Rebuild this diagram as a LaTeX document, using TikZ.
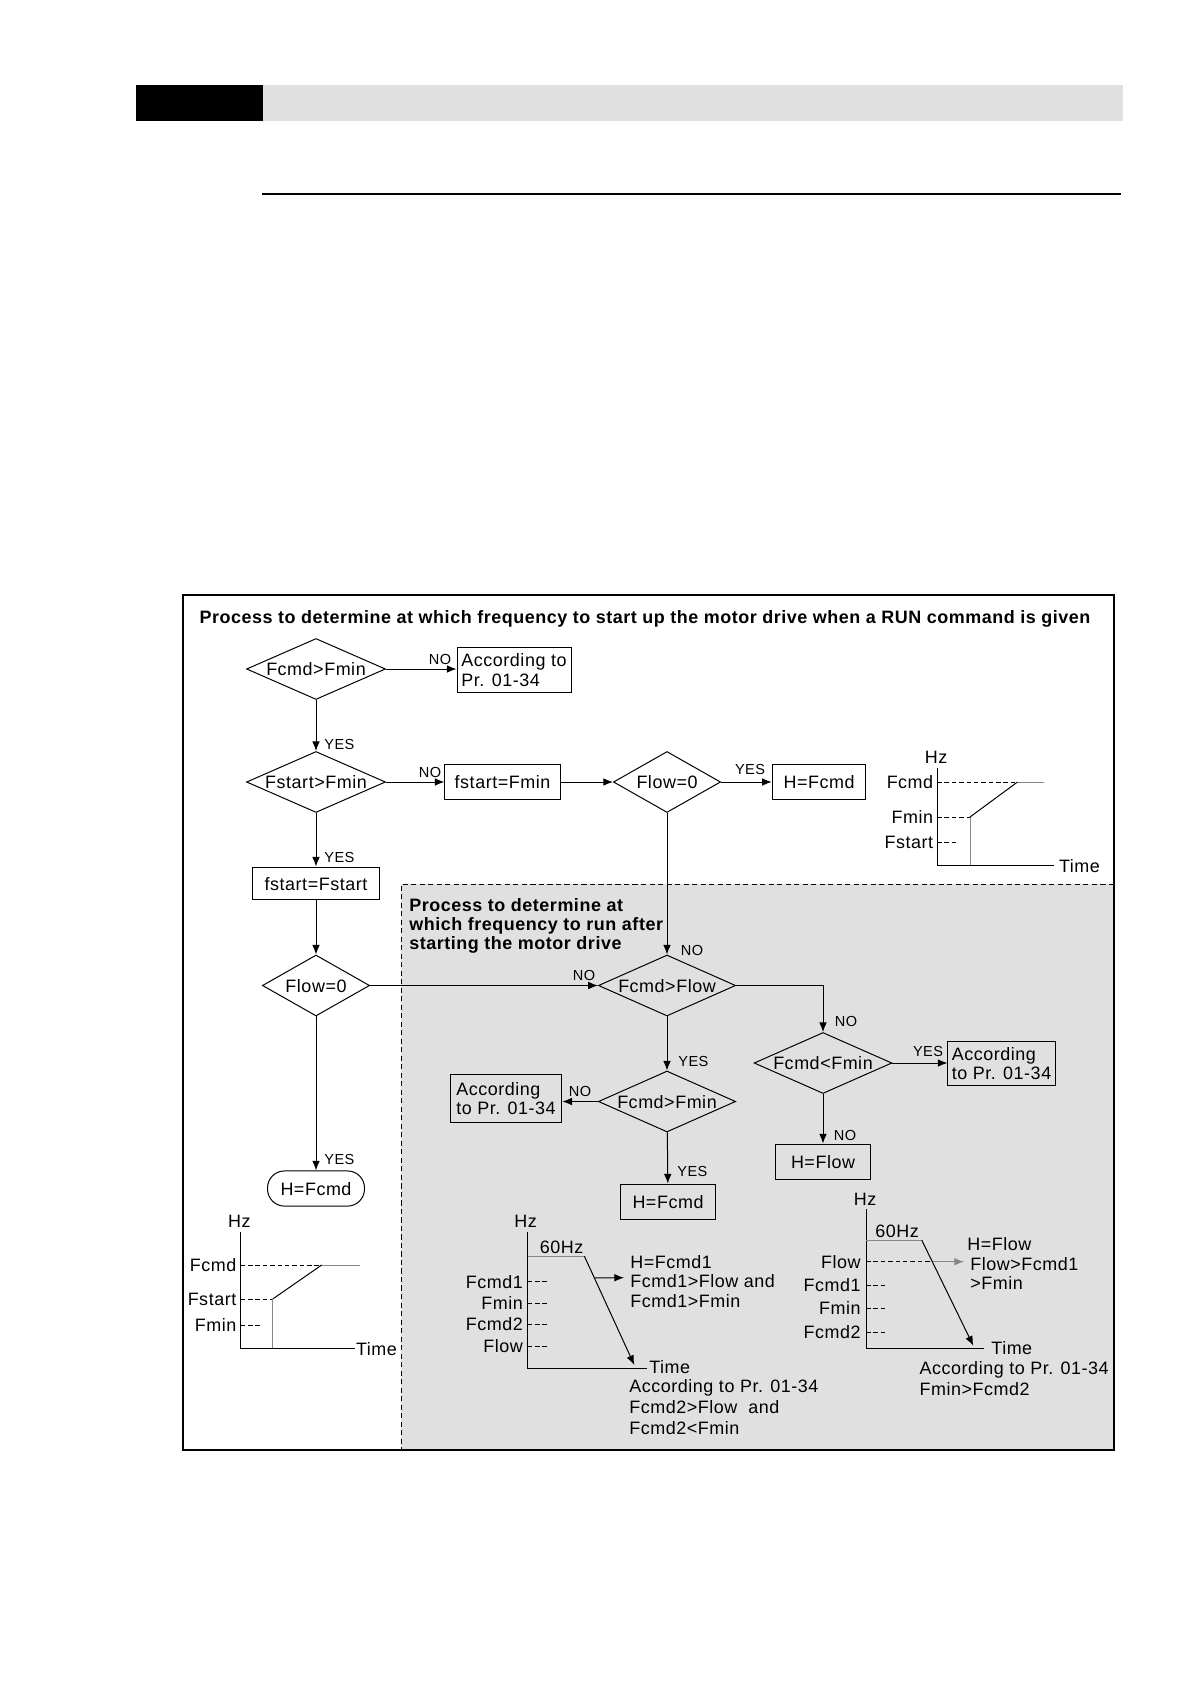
\documentclass[tikz,border=0pt]{standalone}
\usepackage{fontspec}
\setmainfont{Liberation Sans}[LetterSpace=3.0]
\usepackage{xcolor}
\usetikzlibrary{shapes.geometric, arrows.meta, positioning, calc}
\definecolor{panelgray}{RGB}{224, 224, 224}
\definecolor{curvegray}{RGB}{135, 135, 135}
\tikzstyle{process} = [rectangle, minimum height=6.17mm, inner sep=0pt, text height=2.3mm, text depth=0pt, text centered, draw=black, line width=0.5pt]
\tikzstyle{memo} = [rectangle, inner sep=0pt, align=left, draw=black, line width=0.5pt]
\tikzstyle{terminal} = [rectangle, rounded corners=3mm, minimum height=6.2mm, inner sep=0pt, text height=2.3mm, text depth=0pt, draw=black, line width=0.5pt]
\tikzstyle{decision} = [diamond, aspect=2.3, minimum height=10.75mm, inner sep=0pt, text height=2.3mm, text depth=0pt, draw=black, line width=0.5pt]
\tikzstyle{answer} = [inner sep=0pt, font=\fontsize{7.3}{8}\selectfont]
\tikzstyle{lbl} = [inner sep=0pt]
\tikzstyle{arrow} = [line width=0.5pt, -{Latex[length=1.7mm, width=1.35mm]}]
\tikzstyle{axis} = [line width=0.5pt]
\tikzstyle{guide} = [line width=0.45pt, dash pattern=on 0.8mm off 0.5mm]

\begin{document}
\begin{tikzpicture}[x=0.17632mm, y=-0.17632mm, font=\fontsize{9}{9.7}\selectfont]
\useasboundingbox (0,0) rectangle (1191,1684);

% Page header
\fill [black] (136,85) rectangle (263,121);
\fill [panelgray] (263,85) rectangle (1123,121);
\draw [line width=0.8pt] (262,194) -- (1121,194);

% Run-time panel and outer frame
\fill [panelgray] (401,884) rectangle (1114,1449);
\draw [line width=0.5pt, dash pattern=on 0.9mm off 0.6mm] (1114,884) -- (401,884) -- (401,1449) -- (1114,1449);
\draw [line width=0.6pt] (183,595) rectangle (1114,1450);

\node (title) [lbl, anchor=base, font=\fontsize{9}{9.7}\selectfont\bfseries] at (645,623) {Process to determine at which frequency to start up the motor drive when a RUN command is given};
\node (subtitle) [lbl, anchor=north west, align=left, font=\fontsize{9}{9.6}\selectfont\bfseries] at (409,898) {Process to determine at\\which frequency to run after\\starting the motor drive};

% Start-up decisions
\node (fmin) [decision, minimum width=24.5mm] at (316,669) {Fcmd>Fmin};
\node (acc1) [memo, minimum width=20.1mm, minimum height=7.76mm] at (514,670) {According to\\Pr. 01-34};
\node (fstart) [decision, minimum width=24.5mm] at (316,782) {Fstart>Fmin};
\node (fsmin) [process, minimum width=20.3mm] at (502.5,782) {fstart=Fmin};
\node (flow1) [decision, minimum width=18.9mm] at (667,782) {Flow=0};
\node (hfcmd1) [process, minimum width=16.5mm] at (819,782) {H=Fcmd};
\node (fsfs) [process, minimum width=22.4mm, minimum height=5.8mm] at (316,883.5) {fstart=Fstart};
\node (flow2) [decision, minimum width=18.9mm] at (316,985.5) {Flow=0};
\node (hfcmd0) [terminal, minimum width=17.1mm] at (316,1188.5) {H=Fcmd};

% Run-time decisions
\node (flowcmp) [decision, minimum width=24.2mm] at (667,985.5) {Fcmd>Flow};
\node (fminlow) [decision, minimum width=24.3mm] at (823,1063) {Fcmd<Fmin};
\node (acc2) [memo, minimum width=18.9mm, minimum height=7.6mm] at (1001.5,1063.5) {According\\to Pr. 01-34};
\node (hflow) [process, minimum width=16.6mm] at (823,1161.5) {H=Flow};
\node (fmin2) [decision, minimum width=24.2mm] at (667,1101.5) {Fcmd>Fmin};
\node (acc3) [memo, minimum width=19.7mm, minimum height=8.6mm] at (506,1098.5) {According\\to Pr. 01-34};
\node (hfcmd2) [process, minimum width=16.7mm] at (668,1201.5) {H=Fcmd};

% Arrows
\draw [arrow] (fmin.east) -- (fmin.east -| acc1.west);
\draw [arrow] (fmin) -- (fstart);
\draw [arrow] (fstart) -- (fsmin);
\draw [arrow] (fsmin) -- (flow1);
\draw [arrow] (flow1) -- (hfcmd1);
\draw [arrow] (fstart) -- (fsfs);
\draw [arrow] (fsfs) -- (flow2);
\draw [arrow] (flow2) -- (hfcmd0);
\draw [arrow] (flow2) -- (flowcmp);
\draw [arrow] (flow1) -- (flowcmp);
\draw [arrow] (flowcmp) -| (fminlow);
\draw [arrow] (fminlow) -- (fminlow -| acc2.west);
\draw [arrow] (fminlow) -- (hflow);
\draw [arrow] (flowcmp) -- (fmin2);
\draw [arrow] (fmin2.west) -- (fmin2.west -| acc3.east);
\draw [arrow] (fmin2) -- (hfcmd2);

% Branch labels
\node (no1) [answer] at (440,659) {NO};
\node (yes1) [answer, anchor=west] at (324,744) {YES};
\node (no2) [answer] at (430,772) {NO};
\node (yes2) [answer] at (750,769) {YES};
\node (yes3) [answer, anchor=west] at (324,857) {YES};
\node (yes4) [answer, anchor=west] at (324,1159) {YES};
\node (no3) [answer] at (584,975) {NO};
\node (no4) [answer] at (692,950) {NO};
\node (no5) [answer] at (846,1021) {NO};
\node (yes5) [answer] at (928,1051) {YES};
\node (no6) [answer] at (845,1135) {NO};
\node (yes6) [answer, anchor=west] at (678,1061) {YES};
\node (no7) [answer] at (580,1091) {NO};
\node (yes7) [answer, anchor=west] at (677,1171) {YES};

% Graph: start with Fstart<Fmin
\draw [axis] (937,768) -- (937,865) -- (1054,865);
\node (g1hz) [lbl] at (936,757) {Hz};
\node (g1time) [lbl, anchor=west] at (1058.6,866) {Time};
\foreach \lab/\yy/\xx [count=\i] in {Fcmd/782/1017.5, Fmin/817/970, Fstart/842/958.6} {
  \node (g1l\i) [lbl, anchor=east] at (933.6,\yy) {\lab};
  \draw [guide] (937,\yy) -- (\xx,\yy);
}
\draw [axis, curvegray] (1017.5,782) -- (1044,782);
\draw [axis, curvegray] (970,817) -- (970,865);
\draw [axis] (970,817) -- (1017.5,782);

% Graph: start with Fstart>Fmin
\draw [axis] (240.7,1231.7) -- (240.7,1348.3) -- (355,1348.3);
\node (g2hz) [lbl] at (239.3,1221.7) {Hz};
\node (g2time) [lbl, anchor=west] at (355.7,1349) {Time};
\foreach \lab/\yy/\xx [count=\i] in {Fcmd/1265/321.7, Fstart/1299/272.7, Fmin/1325/261.7} {
  \node (g2l\i) [lbl, anchor=east] at (236.7,\yy) {\lab};
  \draw [guide] (240.7,\yy) -- (\xx,\yy);
}
\draw [axis, curvegray] (321.7,1265) -- (360,1265);
\draw [axis, curvegray] (272.7,1299) -- (272.7,1348.3);
\draw [axis] (272.7,1299) -- (321.7,1265);

% Graph: Fcmd above Flow
\draw [axis] (527.7,1231.7) -- (527.7,1368.3) -- (646.7,1368.3);
\node (g3hz) [lbl] at (525.7,1221.7) {Hz};
\node (g3time) [lbl, anchor=west] at (649,1367) {Time};
\node (g3top) [lbl] at (561.7,1247.7) {60Hz};
\foreach \lab/\yy [count=\i] in {Fcmd1/1281.7, Fmin/1303.3, Fcmd2/1324, Flow/1346} {
  \node (g3l\i) [lbl, anchor=east] at (523.3,\yy) {\lab};
  \draw [guide] (527.7,\yy) -- (548.3,\yy);
}
\draw [axis, curvegray] (527.7,1256) -- (584.3,1256);
\coordinate (g3a) at (584.3,1256);
\coordinate (g3b) at (634.3,1365);
\coordinate (g3fork) at ($(g3a)!0.2!(g3b)$);
\coordinate (g3tip) at (624,1277.7);
\draw [arrow] (g3a) -- (g3b);
\draw [arrow] (g3fork) -- (g3tip);
\node (g3up) [lbl, anchor=north west, align=left, font=\fontsize{9}{9.75}\selectfont] at (630,1255) {H=Fcmd1\\Fcmd1>Flow and\\Fcmd1>Fmin};
\node (g3down) [lbl, anchor=north west, align=left, font=\fontsize{9}{10.5}\selectfont] at (629,1379.2) {According to Pr. 01-34\\Fcmd2>Flow~ and\\Fcmd2<Fmin};

% Graph: Flow above Fcmd
\draw [axis] (866,1209.3) -- (866,1348.3) -- (984.3,1348.3);
\node (g4hz) [lbl] at (865,1199.3) {Hz};
\node (g4time) [lbl, anchor=west] at (991,1348) {Time};
\node (g4top) [lbl] at (897,1231.7) {60Hz};
\foreach \lab/\yy/\xx [count=\i] in {Flow/1261.7/933.3, Fcmd1/1285/886, Fmin/1308.3/886, Fcmd2/1332.3/886} {
  \node (g4l\i) [lbl, anchor=east] at (861,\yy) {\lab};
  \draw [guide] (866,\yy) -- (\xx,\yy);
}
\draw [axis, curvegray] (866,1240) -- (921.7,1240);
\coordinate (g4a) at (921.7,1240);
\coordinate (g4b) at (973.3,1345.7);
\coordinate (g4fork) at (933.3,1261.7);
\coordinate (g4tip) at (964,1261.7);
\draw [arrow] (g4a) -- (g4b);
\draw [arrow, curvegray] (g4fork) -- (g4tip);
\node (g4up) [lbl, anchor=north west, align=left, font=\fontsize{9}{9.75}\selectfont] at (967,1237.5) {H=Flow\\\,Flow>Fcmd1\\\,>Fmin};
\node (g4down) [lbl, anchor=north west, align=left, font=\fontsize{9}{10.5}\selectfont] at (919.3,1360.8) {According to Pr. 01-34\\Fmin>Fcmd2};

\end{tikzpicture}
\end{document}
